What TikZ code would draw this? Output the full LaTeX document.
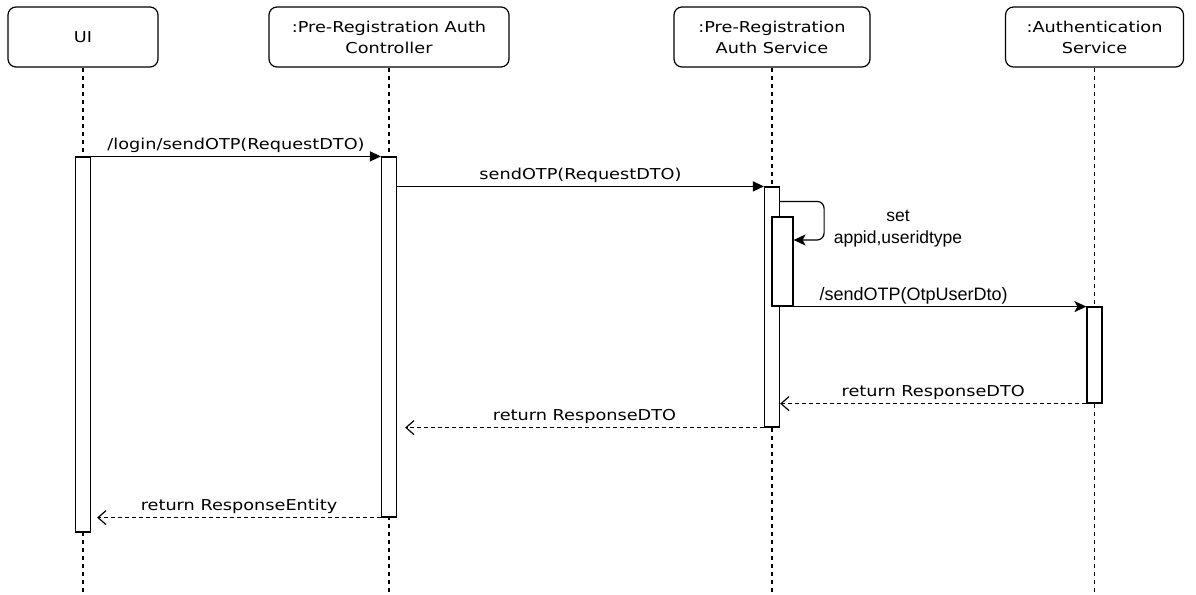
\documentclass[tikz,border=0pt]{standalone}
\usepackage{fontspec}
\setmainfont{DejaVu Sans}[FakeStretch=1.18]
\newfontfamily\arialfont{Liberation Sans}
\usetikzlibrary{arrows.meta}

\begin{document}
\begin{tikzpicture}[x=1pt,y=-1pt,line width=1.2pt,
    head/.style={draw,rounded corners=8pt,minimum height=60pt,align=center,inner sep=2pt,
      font=\fontsize{15}{21}\selectfont},
    bar/.style={draw,fill=white,minimum width=15pt,inner sep=0pt},
    lifeline/.style={dash pattern=on 4pt off 4pt},
    msg/.style={font=\fontsize{15}{18}\selectfont,inner sep=1.5pt},
    call/.style={-{Triangle[length=11pt,width=10pt]}},
    send/.style={-{Stealth[length=12pt,width=11pt,inset=3pt]}},
    ret/.style={dash pattern=on 4pt off 3pt,-{Straight Barb[length=8pt,width=14pt]}}]
  \useasboundingbox (0,0) rectangle (1196,594);
  \node[head,minimum width=150pt] (ui) at (83,37) {UI};
  \node[head,minimum width=240pt] (ctl) at (389,37) {:Pre-Registration Auth\\Controller};
  \node[head,minimum width=196pt] (svc) at (772,37) {:Pre-Registration\\Auth Service};
  \node[head,minimum width=178pt] (auth) at (1094.5,37) {:Authentication\\Service};
  \foreach \n in {ui,ctl,svc,auth}
    \draw[lifeline] (\n.south) -- (\n.south |- 0,594);
  \node[bar,minimum height=375pt] (uiBar) at (83,344.5) {};
  \node[bar,minimum height=360pt] (ctlBar) at (389,337) {};
  \node[bar,minimum height=240pt] (svcBar) at (772,307) {};
  \node[bar,minimum width=21pt,minimum height=89pt] (nestBar) at (782.5,261.5) {};
  \node[bar,minimum height=96pt] (authBar) at (1094.5,355) {};
  \draw[call] (uiBar.north east) -- (ctlBar.north west)
    node[msg,midway,above=2pt] {/login/sendOTP(RequestDTO)};
  \draw[call] (svcBar.north west -| ctlBar.east) -- (svcBar.north west)
    node[msg,midway,above=2pt] {sendOTP(RequestDTO)};
  \coordinate (selfStart) at ([yshift=-15pt]svcBar.north east);
  \coordinate (selfEnd) at ([yshift=21.5pt]nestBar.east);
  \draw[send,rounded corners=7pt] (selfStart) -- ++(44,0) |- (selfEnd);
  \node[align=center,font=\arialfont\fontsize{17.5}{22}\selectfont] (selfLbl) at (898,229) {set\\appid,useridtype};
  \draw[send] (nestBar.south east) -- (nestBar.south east -| authBar.west)
    node[msg,pos=0.41,above=0pt,font=\arialfont\fontsize{18}{20}\selectfont] {/sendOTP(OtpUserDto)};
  \draw[ret] (authBar.south west) -- (svcBar.east |- authBar.south)
    node[msg,midway,above=2pt] {return ResponseDTO};
  \draw[ret] (svcBar.south west) -- ([xshift=8pt]ctlBar.east |- svcBar.south)
    node[msg,midway,above=2pt] {return ResponseDTO};
  \draw[ret] (ctlBar.south west) -- ([xshift=6pt]uiBar.east |- ctlBar.south)
    node[msg,midway,above=2pt] {return ResponseEntity};
\end{tikzpicture}
\end{document}
